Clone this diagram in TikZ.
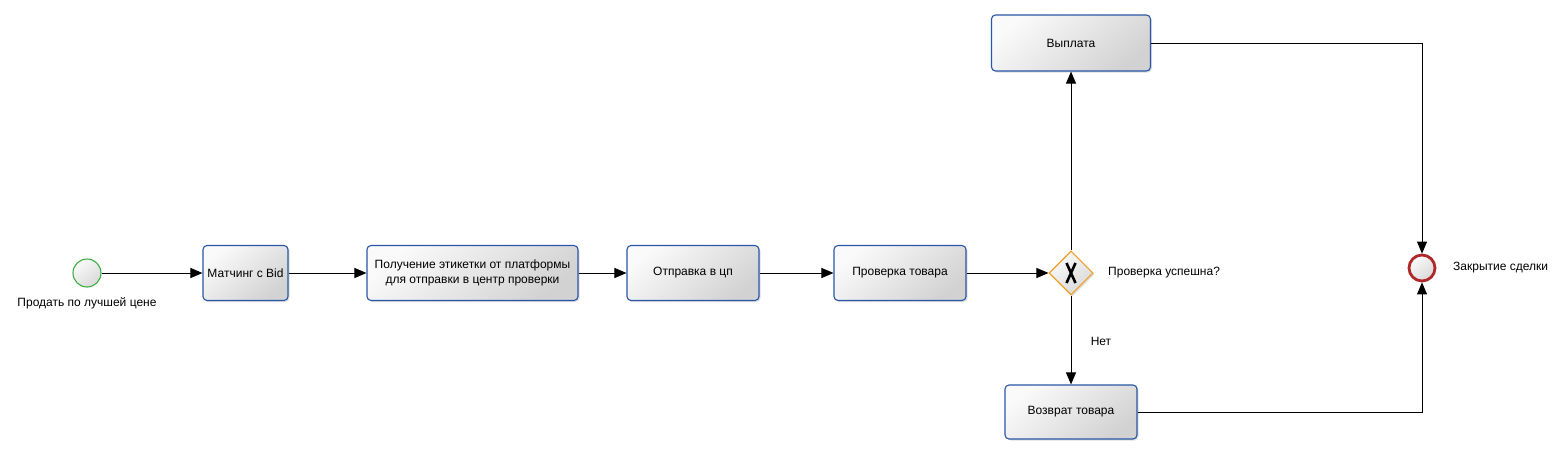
\documentclass[tikz,border=0pt]{standalone}
\usepackage{fontspec}
\setmainfont{Liberation Sans}
\usetikzlibrary{shapes.geometric,arrows.meta,shadows}
\definecolor{taskblue}{HTML}{2A56A8}
\definecolor{gwyellow}{HTML}{F0A020}
\definecolor{endred}{HTML}{B0282A}
\definecolor{startgreen}{HTML}{3CB043}
\begin{document}
\begin{tikzpicture}[
        x=1pt, y=-1pt,
        every node/.style={font=\fontsize{12}{14.5}\selectfont, inner sep=0pt},
        task/.style={draw=taskblue, line width=1.1pt, rectangle, rounded corners=4pt, minimum height=55pt,
            top color=gray!4, bottom color=gray!35, shading angle=40, align=center,
            drop shadow={shadow xshift=1.5pt, shadow yshift=-1.5pt, opacity=0.25}},
        event/.style={circle, minimum size=28pt, top color=gray!4, bottom color=gray!30, shading angle=40},
        gateway/.style={draw=gwyellow, line width=1.1pt, diamond, minimum size=44pt,
            top color=gray!4, bottom color=gray!30, shading angle=40,
            drop shadow={shadow xshift=1.5pt, shadow yshift=-1.5pt, opacity=0.25}},
        flow/.style={draw, line width=1pt, -{Triangle[length=12pt,width=10pt]}},
    ]
    \useasboundingbox (0,0) rectangle (1566,455);
    \node[event, draw=startgreen, line width=1.1pt](start) at (87,273){};
    \node[](startlbl) at (87,303){Продать по лучшей цене};
    \node[task, minimum width=85pt](matching) at (245.5,273){Матчинг с Bid};
    \node[task, minimum width=211pt](label) at (472.5,273){Получение этикетки от платформы\\для отправки в центр проверки};
    \node[task, minimum width=132pt](send) at (693,273){Отправка в цп};
    \node[task, minimum width=132pt](check) at (900,273){Проверка товара};
    \node[gateway](gw) at (1071,273){};
    \draw[line width=2.6pt] ([shift={(-4.5,-10)}]gw.center) -- ([shift={(4.5,10)}]gw.center)
        ([shift={(4.5,-10)}]gw.center) -- ([shift={(-4.5,10)}]gw.center);
    \node[anchor=west](gwlbl) at (1108,273){Проверка успешна?};
    \node[task, minimum width=159pt, minimum height=56pt](pay) at (1071,43){Выплата};
    \node[task, minimum width=132pt, minimum height=54pt](ret) at (1071,412){Возврат товара};
    \node[](nolbl) at (1101,341){Нет};
    \node[event, draw=endred, line width=2.8pt, minimum size=26pt](finish) at (1422,268){};
    \node[anchor=west](finishlbl) at (1453,268){Закрытие сделки};

    \draw[flow] (start) -- (matching);
    \draw[flow] (matching) -- (label);
    \draw[flow] (label) -- (send);
    \draw[flow] (send) -- (check);
    \draw[flow] (check) -- (gw);
    \draw[flow] (gw) -- (pay);
    \draw[flow] (gw) -- (ret);
    \draw[flow] (pay.east) -| (finish.north);
    \draw[flow] (ret.east) -| (finish.south);
\end{tikzpicture}
\end{document}
